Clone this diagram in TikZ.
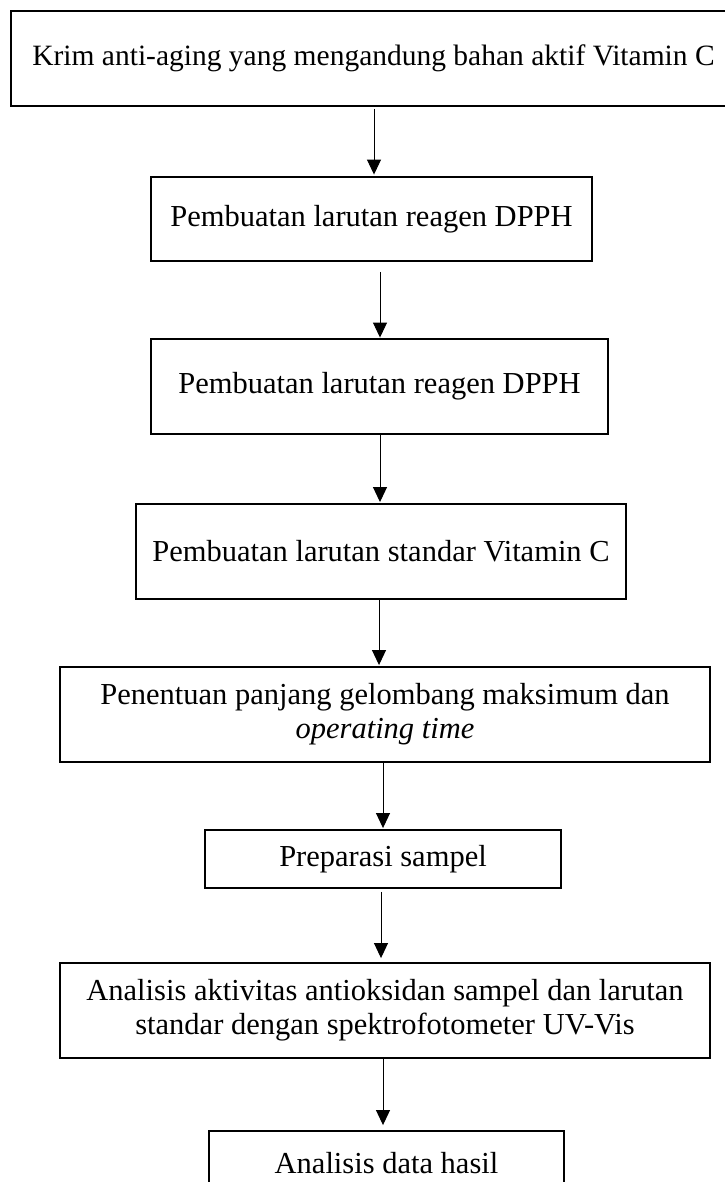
\documentclass[tikz,border=0pt]{standalone}
\usepackage{fontspec}
\setmainfont{Liberation Serif}
\usetikzlibrary{arrows.meta}
\begin{document}
\begin{tikzpicture}[x=1pt,y=-1pt,
  box/.style={draw, line width=1.9pt, inner sep=0pt, align=center,
              font=\fontsize{30.5}{34}\selectfont},
  arr/.style={-{Triangle[length=15pt,width=14pt]}, line width=1pt}]
\useasboundingbox[fill=white] (0,0) rectangle (724,1182);

\node[box, minimum width=725pt, minimum height=95pt, font=\fontsize{29.5}{34}\selectfont] (b1) at (373.5,58.5)
  {Krim anti-aging yang mengandung bahan aktif Vitamin C};
\node[box, minimum width=441pt, minimum height=84pt] (b2) at (371.5,219)
  {Pembuatan larutan reagen DPPH};
\node[box, minimum width=457pt, minimum height=95pt] (b3) at (379.5,386.5)
  {Pembuatan larutan reagen DPPH};
\node[box, minimum width=490pt, minimum height=95pt] (b4) at (381,551.5)
  {Pembuatan larutan standar Vitamin C};
\node[box, minimum width=650pt, minimum height=95pt] (b5) at (385,714.5)
  {Penentuan panjang gelombang maksimum dan\\ \textit{operating time}};
\node[box, minimum width=356pt, minimum height=58pt] (b6) at (383,859)
  {Preparasi sampel};
\node[box, minimum width=650pt, minimum height=95pt] (b7) at (385,1010.5)
  {Analisis aktivitas antioksidan sampel dan larutan\\ standar dengan spektrofotometer UV-Vis};
\node[box, minimum width=355pt, minimum height=64pt] (b8) at (386.5,1163)
  {Analisis data hasil};

\draw[arr, shorten <=2pt, shorten >=1.5pt] ([xshift=0.5pt]b1.south) -- ([xshift=2.5pt]b2.north);
\draw[arr, shorten <=10pt, shorten >=0.5pt] ([xshift=8.5pt]b2.south) -- ([xshift=0.5pt]b3.north);
\draw[arr, shorten >=1pt] ([xshift=0.5pt]b3.south) -- ([xshift=-1pt]b4.north);
\draw[arr, shorten >=1pt] ([xshift=-2pt]b4.south) -- ([xshift=-6pt]b5.north);
\draw[arr, shorten >=1pt] ([xshift=-2pt]b5.south) -- ([xshift=0pt]b6.north);
\draw[arr, shorten <=3pt, shorten >=4pt] ([xshift=-2pt]b6.south) -- ([xshift=-4pt]b7.north);
\draw[arr, shorten >=5pt] ([xshift=-2pt]b7.south) -- ([xshift=-3.5pt]b8.north);
\end{tikzpicture}
\end{document}
